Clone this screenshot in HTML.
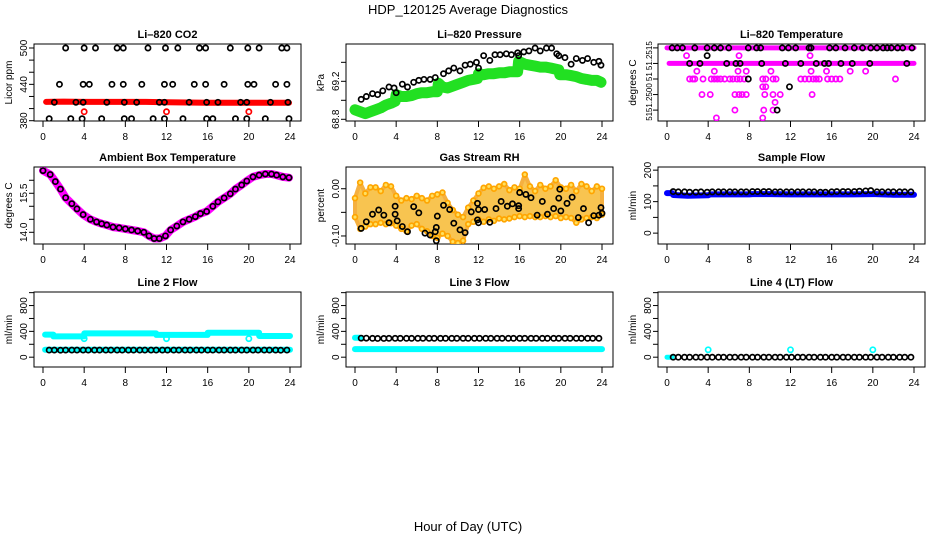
<!DOCTYPE html>
<html><head><meta charset="utf-8">
<style>
html,body{margin:0;padding:0;background:#fff;}
svg{display:block;font-family:"Liberation Sans",sans-serif;}
</style></head>
<body>
<svg id="chart" width="936" height="540" viewBox="0 0 936 540">
<text x="468" y="14" font-size="13" text-anchor="middle">HDP_120125  Average Diagnostics</text>
<text x="468" y="531" font-size="13" text-anchor="middle">Hour of Day (UTC)</text>
</svg>
<script>
// ---------- data ----------
const xTicks=[0,4,8,12,16,20,24];
// CO2
const co2Hi=[2.2,4,5.1,7.2,7.8,10.2,11.9,13.1,15.2,15.8,18.2,19.9,21,23.2,23.7];
const co2Mid=[1.6,3.9,4.5,6.7,7.8,9.6,11.8,12.6,14.7,15.8,17.6,19.9,20.5,22.6,23.7];
const co2Low=[1.1,3.2,3.9,6.2,7.9,9.1,11.3,11.8,14.2,15.9,17,19.2,19.8,22.1,23.8];
const co2Bot=[0.6,2.7,3.8,5.7,7.9,8.6,10.7,11.8,13.6,15.9,16.5,18.7,19.8,21.6,23.9];
const co2Levels=[500,440,410.4,383.3];
const co2RedHours=[0.3,2,4,6,8,10,12,14,16,18,20,22,23.9];
const co2RedVals=[411,411.5,411,411,411,411,410.5,410,409.5,409.5,409.5,409.5,409.5];
const co2RedDotHours=[4,12,20];
const co2RedDotVals=[394.8,394.8,394.8];
// Pressure
const presBlackH=[0.6,1.1,1.7,2.2,2.7,3.3,3.8,4,4.6,5.1,5.7,6.2,6.7,7.3,7.8,8.6,9.1,9.6,10.2,10.7,11.2,11.8,12,12.5,13.1,13.6,14.1,14.7,15.2,15.8,15.9,16.4,16.9,17.5,18,18.6,19.1,19.6,19.8,20.4,21,21.5,22.1,22.6,23.2,23.7,23.9];
const presBlackV=[69.01,69.04,69.07,69.06,69.10,69.14,69.13,69.08,69.17,69.14,69.19,69.21,69.22,69.22,69.24,69.28,69.31,69.34,69.31,69.37,69.38,69.40,69.34,69.47,69.42,69.48,69.48,69.49,69.48,69.50,69.47,69.51,69.52,69.55,69.52,69.55,69.55,69.49,69.47,69.45,69.38,69.44,69.42,69.44,69.40,69.41,69.37];
const presGreenH=[0,0.5,1,1.5,2,2.5,3,3.5,3.9,4,4.5,5,5.5,6,6.5,7,7.5,8,8.1,8.5,9,9.5,10,10.5,11,11.5,11.9,12,12.5,13,13.5,14,14.5,15,15.8,15.9,16.5,17,17.5,18,18.5,19,19.8,19.9,20.5,21,21.5,22,22.5,23,23.5,23.9];
const presGreenV=[68.90,68.88,68.86,68.88,68.90,68.92,68.95,68.97,68.99,69.06,69.04,69.04,69.05,69.07,69.08,69.08,69.09,69.09,69.18,69.14,69.13,69.15,69.17,69.19,69.21,69.22,69.23,69.28,69.27,69.28,69.28,69.29,69.29,69.30,69.30,69.41,69.38,69.37,69.36,69.35,69.35,69.34,69.32,69.27,69.27,69.26,69.25,69.23,69.22,69.21,69.21,69.19];
// Li-820 temperature
const tRunLevels=[51.2515,51.2513];
const tRunFrom=[0,0.2];
const tRunTo=[24,24];
const tMagH=[1.9,7,13.9,2.9,4.6,6.9,7.7,10.1,14,15.5,17.8,19.3,2.2,2.5,2.7,3.5,4.3,4.6,4.9,5.2,5.6,6.1,6.4,6.8,7.1,7.5,9.3,9.6,10.3,10.6,13,13.4,13.8,14.2,14.5,14.8,15.6,16,16.4,16.8,22.2,9.3,9.6,3.4,4.2,6.6,7,7.3,7.7,9.5,10.3,11,14.1,10.5,6.6,9.4,10.3,4.8,9.3];
const tMagV=[51.2514,51.2514,51.2514,51.2512,51.2512,51.2512,51.2512,51.2512,51.2512,51.2512,51.2512,51.2512,51.2511,51.2511,51.2511,51.2511,51.2511,51.2511,51.2511,51.2511,51.2511,51.2511,51.2511,51.2511,51.2511,51.2511,51.2511,51.2511,51.2511,51.2511,51.2511,51.2511,51.2511,51.2511,51.2511,51.2511,51.2511,51.2511,51.2511,51.2511,51.2511,51.2510,51.2510,51.2509,51.2509,51.2509,51.2509,51.2509,51.2509,51.2509,51.2509,51.2509,51.2509,51.2508,51.2507,51.2507,51.2507,51.2506,51.2506];
const tBlkH=[0.5,1,1.5,2.7,3.9,4.6,5.2,6,7.9,8.7,9.1,11.2,11.8,12.5,13.8,14,15.8,16.4,17.3,18.2,19,19.8,20.4,21,21.4,21.8,22.4,22.9,23.8,2.2,3.2,5.8,6.7,7.1,9.2,11.5,13,14.5,15.3,15.7,16.9,18,19.7,23.3,3.9,7.9,11.9,10.7];
const tBlkV=[51.2515,51.2515,51.2515,51.2515,51.2515,51.2515,51.2515,51.2515,51.2515,51.2515,51.2515,51.2515,51.2515,51.2515,51.2515,51.2515,51.2515,51.2515,51.2515,51.2515,51.2515,51.2515,51.2515,51.2515,51.2515,51.2515,51.2515,51.2515,51.2515,51.2513,51.2513,51.2513,51.2513,51.2513,51.2513,51.2513,51.2513,51.2513,51.2513,51.2513,51.2513,51.2513,51.2513,51.2513,51.2514,51.2511,51.2510,51.2507];
const tTickLabels=["51.2515","51","51.2500","51"];
const tTickLabelVals=[51.2514,51.25113,51.25086,51.25062];
// Ambient box temperature
const ambH=[0,0.7,1.2,1.7,2.2,2.8,3.3,3.9,4.6,5.2,5.7,6.2,6.8,7.4,8,8.6,9.2,9.8,10.3,10.8,11.3,11.9,12.4,13,13.6,14.2,14.8,15.3,15.9,16.5,17,17.6,18.2,18.7,19.3,19.8,20.4,21,21.6,22.2,22.7,23.3,23.9];
const ambV=[16.37,16.22,15.95,15.66,15.33,15.1,14.9,14.68,14.5,14.4,14.33,14.28,14.2,14.17,14.13,14.09,14.05,14.0,13.86,13.76,13.76,13.86,14.09,14.24,14.4,14.5,14.6,14.72,14.8,15.0,15.17,15.32,15.48,15.66,15.82,15.97,16.13,16.2,16.24,16.24,16.2,16.13,16.1];
// Gas stream RH
const rhBandH=[0,0.5,1,1.5,2,2.5,3,3.5,4,4.5,5,5.5,6,6.5,7,7.5,8,8.5,9,9.5,10,10.5,11,11.5,12,12.5,13,13.5,14,14.5,15,15.5,16,16.5,17,17.5,18,18.5,19,19.5,20,20.5,21,21.5,22,22.5,23,23.5,24];
const rhLo=[-0.06,-0.085,-0.08,-0.075,-0.075,-0.072,-0.075,-0.073,-0.078,-0.085,-0.09,-0.078,-0.075,-0.085,-0.09,-0.1,-0.104,-0.095,-0.1,-0.112,-0.115,-0.11,-0.075,-0.07,-0.065,-0.07,-0.065,-0.068,-0.063,-0.065,-0.063,-0.06,-0.058,-0.06,-0.058,-0.06,-0.06,-0.058,-0.06,-0.058,-0.062,-0.06,-0.062,-0.072,-0.065,-0.062,-0.06,-0.062,-0.055];
const rhHi=[-0.02,0.013,-0.01,0.003,0.003,-0.005,0.008,0.005,-0.015,-0.025,-0.02,-0.022,-0.015,-0.02,-0.025,-0.015,-0.012,-0.008,-0.03,-0.045,-0.055,-0.06,-0.04,-0.025,-0.01,0.002,0.005,0,0.005,0.01,-0.003,0.003,0,0.03,0.005,-0.005,0.008,0,0.005,0.018,0.003,0,0.008,-0.005,0.01,0.005,-0.005,0.005,0];
const rhBlkH=[0.6,1.1,1.7,2.3,2.8,3.3,3.9,3.9,4.1,4.6,5.1,5.7,6.2,6.8,7.3,7.8,7.9,8,7.9,8.6,9.2,9.6,10.2,10.7,11.3,11.9,11.9,12,12,12.6,13.1,13.7,14.2,14.8,15.3,15.9,15.9,16,16.6,17.1,17.7,18.2,18.7,19.3,19.8,19.9,20,20.6,21.1,21.7,22.2,22.7,23.2,23.7,23.9,24];
const rhBlkV=[-0.084,-0.07,-0.054,-0.045,-0.056,-0.072,-0.037,-0.054,-0.068,-0.08,-0.091,-0.038,-0.051,-0.094,-0.098,-0.091,-0.082,-0.058,-0.11,-0.035,-0.044,-0.073,-0.087,-0.093,-0.049,-0.031,-0.066,-0.072,-0.044,-0.044,-0.071,-0.042,-0.027,-0.037,-0.032,-0.036,-0.042,-0.008,-0.012,-0.019,-0.056,-0.027,-0.054,-0.042,-0.02,-0.001,-0.047,-0.031,-0.018,-0.061,-0.042,-0.072,-0.057,-0.056,-0.04,-0.052];
// Flows
const flowH=[0.6,1.1,1.7,2.2,2.8,3.3,3.9,4.4,5,5.5,6.1,6.6,7.2,7.7,8.3,8.8,9.4,9.9,10.5,11,11.6,12.1,12.7,13.2,13.8,14.3,14.9,15.4,16,16.5,17.1,17.6,18.2,18.7,19.3,19.8,20.4,20.9,21.5,22,22.6,23.1,23.7];
const sampleBlk=[132,131,131,130,130,131,130,131,131,131,131,131,131,131,132,132,132,132,131,131,131,131,131,131,131,131,130,130,131,132,132,132,132,133,134,135,131,131,131,131,131,131,131];
const sampleBlueH=[0,0.5,0.6,2,4,4.2,6,8,8.3,10,12,12.3,14,16,16.3,18,20,20.3,22,24];
const sampleBlueV=[127,127,121,119,120,123,123,123,124,124,123,123,123,123,123,123,124,124,122,122];
const line2Blk=[110,110,108,110,110,110,110,110,110,110,110,110,110,110,110,110,110,110,110,110,110,110,110,110,110,110,110,110,110,110,110,110,110,110,110,110,110,110,110,110,110,108,110];
const line2UpH=[0.2,1,1.01,4,4.01,11,11.01,16,16.01,21,21.01,24];
const line2UpV=[350,350,322,322,368,368,345,345,380,380,328,328];
const line2LowH=[0.2,24];
const line2LowV=[115,115];
const line2DipH=[4,12,20];
const line2DipV=[287,287,287];
const line3Blk=[295,295,292,290,290,292,292,292,292,292,292,292,292,292,292,292,292,292,292,292,292,292,292,292,292,292,292,292,292,292,292,292,292,292,292,292,292,292,292,292,292,292,292];
const line3LowH=[0,24];
const line3LowV=[125,125];
const line3UpH=[0,0.5];
const line3UpV=[300,300];
const line4Blk=[0,0,0,0,0,0,0,0,0,0,0,0,0,0,0,0,0,0,0,0,0,0,0,0,0,0,0,0,0,0,0,0,0,0,0,0,0,0,0,0,0,0,0];
const line4CyH=[4,12,20];
const line4CyV=[115,115,115];
const line4StartH=[0,0.5];
const line4StartV=[0,0];

// ---------- drawing ----------
const NS="http://www.w3.org/2000/svg";
const svg=document.getElementById('chart');
function mk(tag,attrs,parent){const e=document.createElementNS(NS,tag);for(const k in attrs)e.setAttribute(k,attrs[k]);(parent||svg).appendChild(e);return e;}
const colX=[43,355,667], rowTop=[44,167,292], rowH=[77,77,75];
function makePanel(c,r,ymin,ymax,title,ylab,ticks,labels,name){
  const g=mk('g',{});
  
  
  const x0=colX[c], top=rowTop[r], h=rowH[r], bl=x0-9, br=x0+258, bot=top+h;
  const sx=v=>x0+v/24*247;
  const sy=v=>bot-(v-ymin)/(ymax-ymin)*h;
  const t=mk('text',{x:(bl+br)/2,y:top-6,'font-size':11,'font-weight':'bold','text-anchor':'middle'},g);t.textContent=title;
  
  
  const frame=mk('rect',{x:bl,y:top,width:br-bl,height:h,fill:'none',stroke:'#000','stroke-width':1},g);
  
  
  xTicks.forEach(v=>{mk('line',{x1:sx(v),x2:sx(v),y1:bot,y2:bot+6,stroke:'#000'},g);
    const tl=mk('text',{x:sx(v),y:bot+19,'font-size':10,'text-anchor':'middle'},g);tl.textContent=v;
    
    });
  ticks.forEach(v=>mk('line',{x1:bl-5,x2:bl,y1:sy(v),y2:sy(v),stroke:'#000'},g));
  labels.forEach(([v,s])=>{const y=sy(v);const tl=mk('text',{x:bl-7,y:y,'font-size':10,'text-anchor':'middle',transform:`rotate(-90 ${bl-7} ${y})`},g);tl.textContent=s;
    
    });
  const yt=mk('text',{x:bl-22,y:(top+bot)/2,'font-size':10,'text-anchor':'middle',transform:`rotate(-90 ${bl-22} ${(top+bot)/2})`},g);yt.textContent=ylab;
  
  
  const clip='clip'+c+r;
  const cp=mk('clipPath',{id:clip},g);mk('rect',{x:bl,y:top,width:br-bl,height:h},cp);
  const data=mk('g',{'clip-path':`url(#${clip})`},g);
  return {sx,sy,g:data};
}
function circles(p,hs,vs,color,name,r,fill){
  hs.forEach((h,i)=>{const c=mk('circle',{cx:p.sx(h),cy:p.sy(vs[i]),r:r||2.6,fill:fill||'none',stroke:color,'stroke-width':1.7},p.g);
    
    });
}
function band(p,hs,vs,color,w,name){
  const pts=hs.map((h,i)=>p.sx(h).toFixed(1)+','+p.sy(vs[i]).toFixed(1)).join(' ');
  const l=mk('polyline',{points:pts,fill:'none',stroke:color,'stroke-width':w,'stroke-linejoin':'round','stroke-linecap':'round'},p.g);
  
  
}
function rng(a,b,s){const o=[];for(let v=a;v<=b+1e-9;v+=s)o.push(+v.toFixed(6));return o;}

// P1 CO2
let p=makePanel(0,0,379.5,506.6,'Li–820 CO2','Licor ppm',rng(380,500,20),[[380,'380'],[440,'440'],[500,'500']],'co2-panel');
band(p,co2RedHours,co2RedVals,'#ff0000',6,'co2-red-series');
circles(p,co2RedDotHours,co2RedDotVals,'#ff0000','co2-red-point');
[co2Hi,co2Mid,co2Low,co2Bot].forEach((hs,i)=>circles(p,hs,hs.map(()=>co2Levels[i]),'#000','co2-black-point'));
// P2 Pressure
p=makePanel(1,0,68.782,69.593,'Li–820 Pressure','kPa',[68.8,69.0,69.2,69.4],[[68.8,'68.8'],[69.2,'69.2']],'pressure-panel');
band(p,presGreenH,presGreenV,'#22e022',11,'pressure-green-series');
circles(p,presBlackH,presBlackV,'#000','pressure-black-point');
// P3 Li-820 temperature
p=makePanel(2,0,51.25056,51.25155,'Li–820 Temperature','degrees C',[51.2515,51.2513,51.2511,51.2509,51.2507],[],'li820-temp-panel');
tTickLabels.forEach((s,i)=>{const y=p.sy(tTickLabelVals[i]);const tl=mk('text',{x:652,y:y,'font-size':8,'text-anchor':'middle',transform:`rotate(-90 652 ${y})`});tl.textContent=s;
  
  });
tRunLevels.forEach((v,i)=>band(p,[tRunFrom[i],tRunTo[i]],[v,v],'#ff00ff',5,'temp-magenta-run'));
circles(p,tMagH,tMagV,'#ff00ff','temp-magenta-point');
circles(p,tBlkH,tBlkV,'#000','temp-black-point');
// P4 Ambient
p=makePanel(0,1,13.55,16.51,'Ambient Box Temperature','degrees C',[14,14.5,15,15.5,16],[[14,'14.0'],[15.5,'15.5']],'ambient-temp-panel');
band(p,ambH,ambV,'#ff00ff',8,'ambient-magenta-series');
circles(p,ambH,ambV,'#000','ambient-black-point');
// P5 RH
p=makePanel(1,1,-0.117,0.046,'Gas Stream RH','percent',[-0.1,-0.05,0],[[-0.1,'-0.10'],[0,'0.00']],'rh-panel');
{const pts=rhBandH.map((h,i)=>p.sx(h)+','+p.sy(rhHi[i])).concat(rhBandH.map((h,i)=>p.sx(h)+','+p.sy(rhLo[i])).reverse()).join(' ');
 const poly=mk('polygon',{points:pts,fill:'#f8c450',stroke:'#f5b040','stroke-width':4,'stroke-linejoin':'round'},p.g);
 
 }
circles(p,rhBandH,rhHi,'#ffa500','rh-orange-point',2.4,'#ffe060');
circles(p,rhBandH,rhLo,'#ffa500','rh-orange-point',2.4,'#ffe060');
circles(p,rhBlkH,rhBlkV,'#000','rh-black-point');
// P6 Sample flow
p=makePanel(2,1,-34.5,210,'Sample Flow','ml/min',[0,50,100,150,200],[[0,'0'],[100,'100'],[200,'200']],'sample-flow-panel');
band(p,sampleBlueH,sampleBlueV,'#0000ff',6,'sample-blue-series');
circles(p,flowH,sampleBlk,'#000','sample-black-point');
// Row 3
const fTicks=[0,200,400,600,800,1000], fLabels=[[0,'0'],[400,'400'],[800,'800']];
p=makePanel(0,2,-152,1010,'Line 2 Flow','ml/min',fTicks,fLabels,'line2-flow-panel');
band(p,line2UpH,line2UpV,'#00ffff',6,'line2-cyan-upper');
band(p,line2LowH,line2LowV,'#00ffff',6,'line2-cyan-lower');
circles(p,line2DipH,line2DipV,'#00ffff','line2-cyan-point');
circles(p,flowH,line2Blk,'#000','line2-black-point');
p=makePanel(1,2,-152,1010,'Line 3 Flow','ml/min',fTicks,fLabels,'line3-flow-panel');
band(p,line3LowH,line3LowV,'#00ffff',6,'line3-cyan-lower');
band(p,line3UpH,line3UpV,'#00ffff',6,'line3-cyan-upper');
circles(p,flowH,line3Blk,'#000','line3-black-point');
p=makePanel(2,2,-152,1010,'Line 4 (LT) Flow','ml/min',fTicks,fLabels,'line4-flow-panel');
band(p,line4StartH,line4StartV,'#00ffff',5,'line4-cyan-start');
circles(p,line4CyH,line4CyV,'#00ffff','line4-cyan-point');
circles(p,flowH,line4Blk,'#000','line4-black-point');
</script>
</body></html>
